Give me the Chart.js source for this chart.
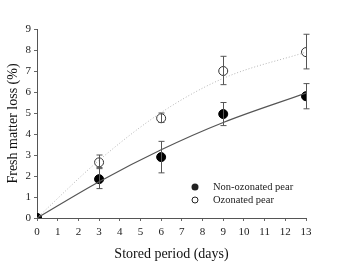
<!DOCTYPE html>
<html>
<head>
<meta charset="utf-8">
<script src="https://cdn.jsdelivr.net/npm/chart.js@4"></script>
<style>
  html, body { margin: 0; padding: 0; background: #fff; }
  #wrap { width: 340px; height: 276px; }
</style>
</head>
<body>
<div id="wrap"><canvas id="c" width="340" height="276"></canvas></div>
<script>
// 数据
const days = [0, 3, 6, 9, 13];
const nonOzonated = [0, 1.85, 2.9, 4.95, 5.8];
const nonOzonatedLow = [0, 1.4, 2.15, 4.4, 5.2];
const nonOzonatedHigh = [0, 2.4, 3.65, 5.5, 6.4];
const ozonated = [0, 2.65, 4.75, 7.0, 7.9];
const ozonatedLow = [0, 2.35, 4.55, 6.35, 7.1];
const ozonatedHigh = [0, 3.0, 5.0, 7.7, 8.75];
// 拟合曲线
const fitDays = [0, 3, 6, 9, 13];
const nonOzonatedFit = [0, 1.73, 3.25, 4.55, 5.95];
const ozonatedFit = [0, 2.75, 5.02, 6.65, 7.9];
const xTicks = [0, 1, 2, 3, 4, 5, 6, 7, 8, 9, 10, 11, 12, 13];
const yTicks = [0, 1, 2, 3, 4, 5, 6, 7, 8, 9];

const serif = '"Liberation Serif", "DejaVu Serif", serif';
const pts = (xs, ys) => xs.map((x, i) => ({ x: x, y: ys[i] }));

// 误差棒
const errorBars = {
    id: 'errorBars',
    afterDatasetsDraw(chart) {
        const ctx = chart.ctx;
        const xs = chart.scales.x, ys = chart.scales.y;
        const sets = [[nonOzonatedLow, nonOzonatedHigh], [ozonatedLow, ozonatedHigh]];
        ctx.save();
        ctx.strokeStyle = '#555';
        ctx.lineWidth = 1;
        sets.forEach(([lo, hi]) => {
            days.forEach((d, i) => {
                if (hi[i] === lo[i]) return;
                const px = Math.round(xs.getPixelForValue(d)) + 0.5;
                const y1 = ys.getPixelForValue(lo[i]);
                const y2 = ys.getPixelForValue(hi[i]);
                ctx.beginPath();
                ctx.moveTo(px, y1); ctx.lineTo(px, y2);
                ctx.moveTo(px - 3, y1); ctx.lineTo(px + 3, y1);
                ctx.moveTo(px - 3, y2); ctx.lineTo(px + 3, y2);
                ctx.stroke();
            });
        });
        ctx.restore();
    }
};

// 图例
const legendPlugin = {
    id: 'legendPlugin',
    afterDraw(chart) {
        const ctx = chart.ctx;
        ctx.save();
        ctx.font = '10.5px ' + serif;
        ctx.fillStyle = '#222';
        ctx.textBaseline = 'middle';
        ctx.beginPath();
        ctx.arc(195, 187, 3.5, 0, Math.PI * 2);
        ctx.fill();
        ctx.fillText('Non-ozonated pear', 213, 187);
        ctx.beginPath();
        ctx.arc(195, 200, 3, 0, Math.PI * 2);
        ctx.fillStyle = '#fff';
        ctx.fill();
        ctx.strokeStyle = '#222';
        ctx.lineWidth = 1;
        ctx.stroke();
        ctx.fillStyle = '#222';
        ctx.fillText('Ozonated pear', 213, 200);
        ctx.restore();
    }
};

new Chart(document.getElementById('c'), {
    type: 'scatter',
    data: {
        datasets: [
            {
                type: 'line',
                data: pts(fitDays, nonOzonatedFit),
                borderColor: '#555',
                borderWidth: 1.2,
                pointRadius: 0,
                cubicInterpolationMode: 'monotone',
                fill: false
            },
            {
                type: 'line',
                data: pts(fitDays, ozonatedFit),
                borderColor: '#b4b4b4',
                borderWidth: 1,
                borderDash: [1, 2],
                pointRadius: 0,
                cubicInterpolationMode: 'monotone',
                fill: false
            },
            {
                data: pts(days, nonOzonated),
                backgroundColor: '#000',
                borderColor: '#000',
                pointRadius: 4.5
            },
            {
                data: pts(days, ozonated),
                backgroundColor: '#fff',
                borderColor: '#333',
                borderWidth: 1,
                pointRadius: 4.5
            }
        ]
    },
    options: {
        responsive: false,
        animation: false,
        layout: { padding: { top: 29, right: 34, left: 1, bottom: 13 } },
        plugins: { legend: { display: false }, tooltip: { enabled: false } },
        scales: {
            x: {
                type: 'linear',
                min: 0, max: 13,
                afterBuildTicks: s => { s.ticks = xTicks.map(v => ({ value: v })); },
                afterFit: s => { s.height = 45; },
                grid: { drawOnChartArea: false, drawTicks: true, tickLength: 3, color: '#666' },
                border: { color: '#555', width: 1 },
                ticks: { color: '#222', font: { family: serif, size: 11 }, padding: 5, maxRotation: 0, autoSkip: false },
                title: { display: true, text: 'Stored period (days)', color: '#111', font: { family: serif, size: 14 }, padding: { top: 0, bottom: 0 } }
            },
            y: {
                min: 0, max: 9,
                afterBuildTicks: s => { s.ticks = yTicks.map(v => ({ value: v })); },
                afterFit: s => { s.width = 36; },
                grid: { drawOnChartArea: false, drawTicks: true, tickLength: 3, color: '#666' },
                border: { color: '#555', width: 1 },
                ticks: { color: '#222', font: { family: serif, size: 11 }, padding: 3 },
                title: { display: true, text: 'Fresh matter loss (%)', color: '#111', font: { family: serif, size: 14 }, padding: { bottom: 0 } }
            }
        }
    },
    plugins: [errorBars, legendPlugin]
});
</script>
</body>
</html>
